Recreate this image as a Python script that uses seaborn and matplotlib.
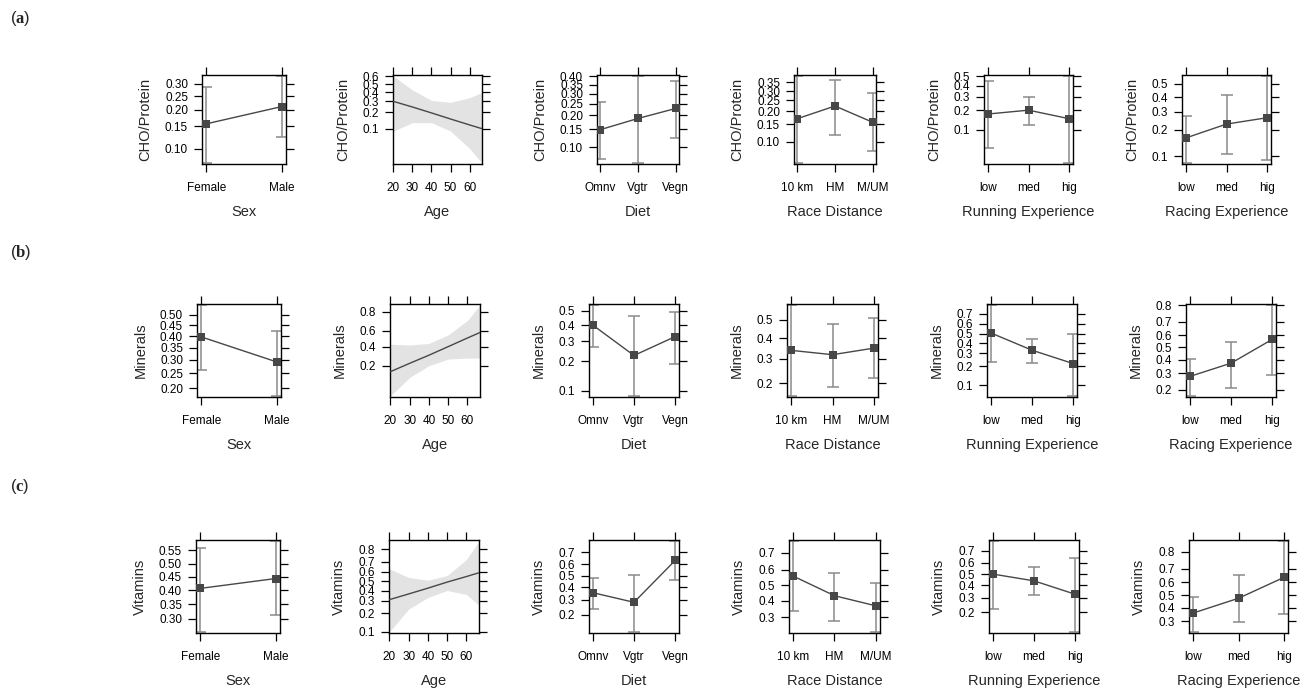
import matplotlib
matplotlib.use("Agg")
import matplotlib.pyplot as plt
import numpy as np
import pandas as pd
import seaborn as sns
from matplotlib.ticker import FixedLocator, FixedFormatter, NullLocator, NullFormatter

# factor levels
sex_levels = ["Female", "Male"]
diet_levels = ["Omnv", "Vgtr", "Vegn"]
distance_levels = ["10 km", "HM", "M/UM"]
exp_levels = ["low", "med", "hig"]
age_grid = [20, 30, 40, 50, 60, 66.5]
age_ticks = [20, 30, 40, 50, 60]

# (a) CHO/Protein : fit, lower, upper
cho_sex = [[0.157, 0.211], [0.076, 0.124], [0.289, 0.336]]
cho_age = [[0.30, 0.245, 0.195, 0.152, 0.118, 0.10], [0.09, 0.13, 0.13, 0.09, 0.04, 0.02], [0.60, 0.43, 0.31, 0.29, 0.34, 0.40]]
cho_diet = [[0.148, 0.187, 0.228], [0.077, 0.07, 0.123], [0.257, 0.40, 0.37]]
cho_dist = [[0.170, 0.223, 0.157], [0.059, 0.117, 0.079], [0.39, 0.366, 0.287]]
cho_run = [[0.175, 0.199, 0.149], [0.050, 0.12, 0.028], [0.446, 0.30, 0.50]]
cho_race = [[0.162, 0.228, 0.264], [0.083, 0.105, 0.090], [0.273, 0.414, 0.56]]

# (b) Minerals
min_sex = [[0.397, 0.291], [0.261, 0.178], [0.545, 0.423]]
min_age = [[0.155, 0.22, 0.30, 0.40, 0.51, 0.58], [0.05, 0.12, 0.20, 0.26, 0.27, 0.27], [0.43, 0.42, 0.44, 0.55, 0.72, 0.85]]
min_diet = [[0.402, 0.226, 0.329], [0.271, 0.088, 0.186], [0.537, 0.461, 0.49]]
min_dist = [[0.339, 0.318, 0.350], [0.16, 0.189, 0.22], [0.578, 0.478, 0.507]]
min_run = [[0.507, 0.33, 0.218], [0.231, 0.224, 0.066], [0.77, 0.44, 0.50]]
min_race = [[0.279, 0.374, 0.566], [0.17, 0.212, 0.29], [0.405, 0.547, 0.80]]

# (c) Vitamins
vit_sex = [[0.406, 0.443], [0.26, 0.313], [0.56, 0.585]]
vit_age = [[0.31, 0.365, 0.425, 0.49, 0.55, 0.59], [0.10, 0.23, 0.33, 0.40, 0.36, 0.26], [0.63, 0.54, 0.51, 0.56, 0.72, 0.85]]
vit_diet = [[0.355, 0.281, 0.635], [0.234, 0.12, 0.462], [0.483, 0.506, 0.775]]
vit_dist = [[0.56, 0.431, 0.367], [0.338, 0.279, 0.227], [0.76, 0.581, 0.515]]
vit_run = [[0.50, 0.439, 0.325], [0.22, 0.319, 0.11], [0.767, 0.563, 0.642]]
vit_race = [[0.359, 0.474, 0.638], [0.234, 0.293, 0.354], [0.488, 0.655, 0.85]]

# y ticks of every panel
cho_yticks = [[0.10, 0.15, 0.20, 0.25, 0.30], [0.1, 0.2, 0.3, 0.4, 0.5, 0.6],
              [0.10, 0.15, 0.20, 0.25, 0.30, 0.35, 0.40], [0.10, 0.15, 0.20, 0.25, 0.30, 0.35],
              [0.1, 0.2, 0.3, 0.4, 0.5], [0.1, 0.2, 0.3, 0.4, 0.5]]
min_yticks = [[0.20, 0.25, 0.30, 0.35, 0.40, 0.45, 0.50], [0.2, 0.4, 0.6, 0.8],
              [0.1, 0.2, 0.3, 0.4, 0.5], [0.2, 0.3, 0.4, 0.5],
              [0.1, 0.2, 0.3, 0.4, 0.5, 0.6, 0.7], [0.2, 0.3, 0.4, 0.5, 0.6, 0.7, 0.8]]
vit_yticks = [[0.30, 0.35, 0.40, 0.45, 0.50, 0.55], [0.1, 0.2, 0.3, 0.4, 0.5, 0.6, 0.7, 0.8],
              [0.2, 0.3, 0.4, 0.5, 0.6, 0.7], [0.3, 0.4, 0.5, 0.6, 0.7],
              [0.2, 0.3, 0.4, 0.5, 0.6, 0.7], [0.3, 0.4, 0.5, 0.6, 0.7, 0.8]]
two_dec = {(0, 0), (0, 2), (0, 3), (1, 0), (2, 0)}

factor_names = ["Sex", "Age", "Diet", "Race Distance", "Running Experience", "Racing Experience"]
factor_levels = [sex_levels, None, diet_levels, distance_levels, exp_levels, exp_levels]
responses = ["CHO/Protein", "Minerals", "Vitamins"]
row_data = [[cho_sex, cho_age, cho_diet, cho_dist, cho_run, cho_race],
            [min_sex, min_age, min_diet, min_dist, min_run, min_race],
            [vit_sex, vit_age, vit_diet, vit_dist, vit_run, vit_race]]
row_ticks = [cho_yticks, min_yticks, vit_yticks]

# panel boxes in pixels (layout)
W, H = 1312, 690
row_tb = [(75, 164), (304, 397), (540, 633)]
col_lr = [[(202, 286), (393, 482), (597, 679), (794, 876), (984, 1073), (1182, 1271)],
          [(197, 281), (390, 480), (589, 679), (787, 878), (987, 1077), (1186, 1276)],
          [(196, 280), (389, 479), (589, 679), (789, 880), (989, 1079), (1189, 1288)]]

sns.set_style("white")
plt.rcParams["font.family"] = ["Liberation Sans", "DejaVu Sans"]
plt.rcParams["mathtext.fontset"] = "custom"
plt.rcParams["mathtext.rm"] = "Liberation Serif"
plt.rcParams["mathtext.bf"] = "Liberation Serif:bold"

LINE = "#474747"
BAR = "#8a8a8a"
BAND = "#e3e3e3"

fig = plt.figure(figsize=(W / 100, H / 100), dpi=100)


def logit(p):
    p = np.asarray(p, dtype=float)
    return np.log(p / (1 - p))


def expit(v):
    return 1 / (1 + np.exp(-v))


for r in range(3):
    top, bottom = row_tb[r]
    for c in range(6):
        left, right = col_lr[r][c]
        ax = fig.add_axes([left / W, 1 - bottom / H, (right - left) / W, (bottom - top) / H])
        fit, lo, hi = row_data[r][c]
        ax.set_yscale("logit")

        if factor_levels[c] is None:
            df = pd.DataFrame({"age": age_grid, "fit": fit})
            ax.fill_between(age_grid, lo, hi, color=BAND, linewidth=0, zorder=1)
            sns.lineplot(data=df, x="age", y="fit", ax=ax, color=LINE, linewidth=1.0, zorder=3)
            ax.set_xlim(19.8, 66.5)
            ax.set_xticks(age_ticks)
            ax.set_xticklabels([str(a) for a in age_ticks])
        else:
            levels = factor_levels[c]
            pos = np.arange(len(levels))
            df = pd.DataFrame({"pos": pos, "fit": fit})
            f = np.array(fit)
            ax.errorbar(pos, f, yerr=[f - np.array(lo), np.array(hi) - f], fmt="none",
                        ecolor=BAR, elinewidth=1.1, capsize=4, capthick=1.1, zorder=2)
            sns.lineplot(data=df, x="pos", y="fit", ax=ax, color=LINE, linewidth=1.0,
                         marker="s", markersize=5.5, markeredgewidth=0, zorder=3)
            m = 0.055 if len(levels) == 2 else 0.09
            ax.set_xlim(-m, len(levels) - 1 + m)
            ax.set_xticks(pos)
            ax.set_xticklabels(levels)

        lmin, lmax = logit(min(lo)), logit(max(hi))
        pad = 0.012 * (lmax - lmin)
        ax.set_ylim(expit(lmin - pad), expit(lmax + pad))

        ticks = row_ticks[r][c]
        fmt = "{:.2f}" if (r, c) in two_dec else "{:.1f}"
        ax.yaxis.set_major_locator(FixedLocator(ticks))
        ax.yaxis.set_major_formatter(FixedFormatter([fmt.format(t) for t in ticks]))
        ax.yaxis.set_minor_locator(NullLocator())
        ax.yaxis.set_minor_formatter(NullFormatter())
        ax.xaxis.set_minor_locator(NullLocator())

        ax.tick_params(axis="both", direction="out", length=6, width=0.9, colors="black",
                       top=True, right=True, bottom=True, left=True,
                       labeltop=False, labelright=False, labelsize=8.5)
        ax.tick_params(axis="x", pad=7)
        ax.tick_params(axis="y", pad=4)
        for sp in ax.spines.values():
            sp.set_color("black")
            sp.set_linewidth(1.0)
        ax.set_xlabel(factor_names[c], fontsize=10.5, labelpad=8)
        ax.set_ylabel(responses[r], fontsize=10.5, labelpad=9)

for label, y in zip(["a", "b", "c"], [18, 252, 486]):
    fig.text(10 / W, 1 - y / H, r"($\mathbf{" + label + r"}$)", fontsize=12, va="center", ha="left")

fig.savefig("out.png", dpi=100)
